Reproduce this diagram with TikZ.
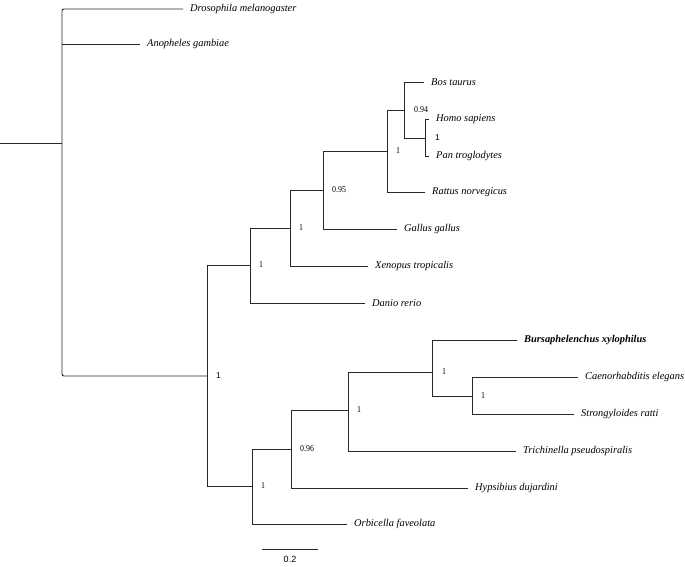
\documentclass[tikz,border=0pt]{standalone}
\usepackage{fontspec}
\setmainfont{Liberation Serif}
\newfontfamily\supsans{Liberation Sans}
\newfontfamily\supserif[FakeStretch=0.88]{Liberation Serif}
\usetikzlibrary{
	positioning,
	calc
}
\definecolor{TreeGray}{RGB}{40,40,40}

\begin{document}
\begin{tikzpicture}[
	x=1pt,
	y=-1pt,
	branch/.style={
		draw=TreeGray,
		line width=0.9pt
	},
	taxon/.style={
		anchor=west,
		inner xsep=7pt,
		inner ysep=0pt,
		font=\fontsize{10.4}{12}\selectfont\itshape
	},
	support/.style={
		inner sep=0pt,
		font=\fontsize{9}{10}\selectfont\supserif
	},
	supportsf/.style={
		support,
		font=\fontsize{8.5}{10}\selectfont\supsans
	}
	]
	
	\useasboundingbox (0,0) rectangle (685,567);
	
	% inner nodes of the tree
	\coordinate (stem) at (0,143);
	\coordinate (root) at (62,143);
	\coordinate (bot) at (207,376);
	\coordinate (vert) at (250,265);
	\coordinate (tetra) at (290,228);
	\coordinate (amnio) at (323,190);
	\coordinate (mamm) at (387,151);
	\coordinate (bosprim) at (404,110);
	\coordinate (prim) at (425,138);
	\coordinate (invert) at (252,486);
	\coordinate (ecdy) at (291,449);
	\coordinate (nema) at (348,410);
	\coordinate (rhab) at (432,372);
	\coordinate (caestr) at (472,396);
	
	% taxa
	\node[taxon] (dro) at (183,9) {Drosophila melanogaster};
	\node[taxon] (ano) at (140,44) {Anopheles gambiae};
	\node[taxon] (bos) at (424,82) {Bos taurus};
	\node[taxon] (homo) at (429,119) {Homo sapiens};
	\node[taxon] (pan) at (429,156) {Pan troglodytes};
	\node[taxon] (rat) at (425,192) {Rattus norvegicus};
	\node[taxon] (gal) at (397,229) {Gallus gallus};
	\node[taxon] (xen) at (368,266) {Xenopus tropicalis};
	\node[taxon] (dan) at (365,303) {Danio rerio};
	\node[taxon, font=\fontsize{10.4}{12}\selectfont\bfseries\itshape] (bur) at (517,340) {Bursaphelenchus xylophilus};
	\node[taxon] (cae) at (578,377) {Caenorhabditis elegans};
	\node[taxon] (str) at (574,414) {Strongyloides ratti};
	\node[taxon] (tri) at (516,451) {Trichinella pseudospiralis};
	\node[taxon] (hyp) at (468,488) {Hypsibius dujardini};
	\node[taxon] (orb) at (347,524) {Orbicella faveolata};
	
	% branches
	\draw[branch] (stem) -- (root);
	\draw[branch, rounded corners=2pt] (dro.west) -| (root) |- (bot);
	\draw[branch] (ano.west) -- (ano.west -| root);
	\draw[branch] (vert) -| (bot);
	\draw[branch] (invert) -| (bot);
	\draw[branch] (tetra) -| (vert);
	\draw[branch] (dan.west) -| (vert);
	\draw[branch] (amnio) -| (tetra);
	\draw[branch] (xen.west) -| (tetra);
	\draw[branch] (mamm) -| (amnio);
	\draw[branch] (gal.west) -| (amnio);
	\draw[branch] (bosprim) -| (mamm);
	\draw[branch] (rat.west) -| (mamm);
	\draw[branch] (bos.west) -| (bosprim);
	\draw[branch] (prim) -| (bosprim);
	\draw[branch] (homo.west) -| (prim);
	\draw[branch] (pan.west) -| (prim);
	\draw[branch] (ecdy) -| (invert);
	\draw[branch] (orb.west) -| (invert);
	\draw[branch] (nema) -| (ecdy);
	\draw[branch] (hyp.west) -| (ecdy);
	\draw[branch] (rhab) -| (nema);
	\draw[branch] (tri.west) -| (nema);
	\draw[branch] (bur.west) -| (rhab);
	\draw[branch] (caestr) -| (rhab);
	\draw[branch] (cae.west) -| (caestr);
	\draw[branch] (str.west) -| (caestr);
	
	% support values
	\node[supportsf, right=9pt of bot] (lbot) {1};
	\node[support, right=9pt of vert] (lvert) {1};
	\node[support, right=9pt of tetra] (ltetra) {1};
	\node[support, right=9pt of amnio] (lamnio) {0.95};
	\node[support, right=9pt of mamm] (lmamm) {1};
	\node[support, right=10pt of bosprim] (lbosprim) {0.94};
	\node[supportsf, right=10pt of prim] (lprim) {1};
	\node[support, right=9pt of invert] (linvert) {1};
	\node[support, right=9pt of ecdy] (lecdy) {0.96};
	\node[support, right=9pt of nema] (lnema) {1};
	\node[support, right=10pt of rhab] (lrhab) {1};
	\node[support, right=9pt of caestr] (lcaestr) {1};
	
	% scale bar
	\coordinate (barL) at (262,549);
	\coordinate (barR) at (318,549);
	\draw[branch] (barL) -- (barR);
	\node[supportsf, font=\fontsize{9}{10}\selectfont\supsans, below=7pt of $(barL)!0.5!(barR)$] (barlab) {0.2};
	
\end{tikzpicture}
\end{document}
